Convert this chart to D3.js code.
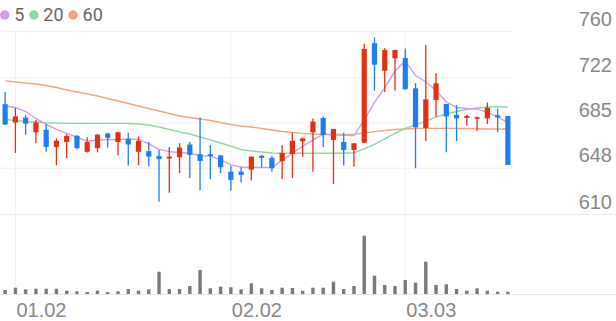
<!DOCTYPE html>
<html>
<head>
<meta charset="utf-8">
<script src="https://cdn.jsdelivr.net/npm/d3@7"></script>
<style>
  body { margin: 0; background: #fff; }
  svg { display: block; font-family: Roboto, 'Noto Sans', sans-serif; }
  .grid line { stroke: #f0f0f0; }
  .grid path { display: none; }
  .label text { fill: #888; font-size: 20px; }
  .label path { display: none; }
</style>
</head>
<body>
<svg width="616" height="321"></svg>
<script>
'use strict';

// daily candles
var open = [700, 685, 689, 677, 679, 665, 669, 674, 661, 664,
    676, 669, 671.5, 661, 661.5, 657.5, 655.5, 656.5, 667, 659,
    659, 658, 644.7, 644.7, 646.3, 657.8, 656, 653.4, 659.2, 669.6,
    677, 688.7, 670.7, 669, 662.5, 668.4, 750, 727.4, 737.6, 737.9,
    713, 680.5, 703.4, 700.2, 691.2, 688.7, 688.4, 688.4, 690.9, 690.3];
var high = [710, 697, 691, 687, 684, 672, 675.3, 674.8, 673, 675.6,
    676.5, 677.5, 676.5, 673.5, 669, 662.5, 665, 668, 669, 689,
    666.5, 658.5, 649.3, 648.3, 657.2, 658.4, 657.5, 666.6, 676.8, 672.5,
    688.3, 690, 679.7, 676.6, 668, 749.6, 754.7, 745.8, 744.4, 745.7,
    717.4, 748.8, 725.3, 700.2, 699.3, 691.2, 689.9, 701.4, 696.5, 690.3];
var low = [683, 660, 675, 668, 661, 650, 656, 663, 660.5, 660.5,
    664.5, 658, 649.5, 650, 649, 620, 627.5, 643.5, 639.5, 629.5,
    638.5, 643.5, 629.3, 636, 637.5, 648, 644.7, 638.4, 639.5, 657,
    644.7, 665, 634.6, 649.8, 648.8, 668.4, 711.2, 710, 711.2, 712,
    647.5, 669.8, 689.8, 660.6, 669.8, 682.4, 678.3, 683.8, 677, 650.2];
var close = [683.4, 690, 684, 685, 665, 670, 674, 664, 669, 675,
    672.5, 677, 667, 670, 657, 655, 657, 664.5, 658.5, 653.5,
    657.5, 648.3, 638, 642, 657, 656, 647.5, 660, 670, 672,
    685.7, 674.8, 679.7, 662.5, 668, 745.3, 732.4, 744.4, 744.4, 712.3,
    681, 704, 717.1, 690, 688.4, 690.3, 689.3, 697.1, 689.1, 650.2];
var volume = [40, 63, 47, 53, 53, 53, 33, 27, 20, 33,
    20, 27, 50, 33, 47, 223, 50, 50, 80, 240,
    57, 73, 67, 47, 107, 57, 40, 63, 60, 33,
    63, 63, 123, 50, 80, 583, 183, 90, 80, 140,
    113, 323, 90, 97, 50, 33, 57, 33, 23, 23];

// moving averages as drawn
var ma5 = [698.5, 697.3, 694, 688.3, 683.4, 679.3, 676.1, 673.1, 669.6, 670.4,
    671.2, 670.9, 671.7, 671.1, 667.6, 662.9, 661.1, 660.4, 659.8, 657.8,
    657.5, 654.3, 650.2, 648.5, 648.1, 648.1, 648.1, 653.9, 659.8, 665.5,
    670.7, 675.3, 674.8, 674.5, 674.3, 687.1, 701.4, 713.3, 727.2, 735.4,
    723.5, 718.4, 711.2, 701.8, 697.3, 696.5, 696.1, 693.2, 690.1, 684.5];
var ma20 = [687.5, 686.6, 685.8, 685.4, 684.8, 684.6, 684.3, 684.2, 684.2, 684.2,
    684.3, 684.3, 684.2, 683.8, 683, 681.3, 679.3, 677.2, 675.6, 673.1,
    670.7, 668.2, 665.7, 662.9, 661.6, 660.8, 660, 659.8, 659.8, 659.8,
    659.8, 659.8, 659.8, 660, 660.2, 663.3, 667, 671.5, 676, 680.1,
    683, 686.2, 689.5, 692, 694, 695.7, 696.9, 697.7, 698.1, 697.5];
var ma60 = [719.3, 718.2, 717.4, 716.6, 715.3, 713.7, 711.6, 710, 708.4, 706.7,
    704.7, 702.6, 700.6, 698.5, 696.5, 694.4, 692.4, 690.3, 689.1, 687.9,
    686.6, 685, 683.4, 682.1, 681.3, 680.1, 678.9, 677.6, 676.8, 676.1,
    675.6, 675.3, 675.3, 675.3, 675.3, 676.4, 677.5, 678.4, 679.3, 679.7,
    680.1, 680.2, 680.2, 680.2, 680.1, 680.1, 679.9, 679.7, 679.7, 679.7];

var priceTicks = [610, 648, 685, 722, 760];
var dateTickIndex = [1, 22, 39];
var dateTickLabels = ['01.02', '02.02', '03.03'];
var maNames = ['5', '20', '60'];
var maColors = ['#d59bef', '#8fd8a4', '#f7a47e'];

var svg = d3.select('svg'),
    plotRight = 513,
    upColor = '#e4300f',
    downColor = '#1c7ef0';

var x = d3.scaleBand()
    .domain(d3.range(close.length))
    .range([0, plotRight]);
var y = d3.scaleLinear()
    .domain([610, 760])
    .range([214, 31]);
var yVol = d3.scaleLinear()
    .domain([0, 700])
    .range([294, 224]);

function cx(i) { return x(i) + x.bandwidth() / 2; }

// horizontal grid
var hGrid = svg.append('g')
    .attr('class', 'grid')
    .call(d3.axisLeft(y).tickValues(priceTicks).tickSize(-plotRight).tickFormat(''));
hGrid.selectAll('.tick')
    .filter(function(d) { return d === 610; })
    .select('line')
    .attr('x2', 616)
    .style('stroke', '#ebebeb');

// vertical grid through the month ticks
svg.append('g')
    .attr('class', 'grid')
    .attr('transform', 'translate(0,294)')
    .call(d3.axisBottom(x).tickValues(dateTickIndex).tickSize(-263).tickFormat(''));

// volume baseline
svg.append('line')
    .attr('x1', 0)
    .attr('x2', 616)
    .attr('y1', 294.5)
    .attr('y2', 294.5)
    .style('stroke', '#e6e6e6');

// price labels sit just above their grid lines
svg.append('g')
    .attr('class', 'label')
    .attr('transform', 'translate(612,0)')
    .call(d3.axisLeft(y).tickValues(priceTicks).tickSize(0).tickPadding(0))
    .selectAll('text')
    .attr('dy', -6);

// date labels, left aligned on the grid line
svg.append('g')
    .attr('class', 'label')
    .attr('transform', 'translate(0,294)')
    .call(d3.axisBottom(x).tickValues(dateTickIndex).tickSize(0)
        .tickFormat(function(d) { return dateTickLabels[dateTickIndex.indexOf(d)]; }))
    .selectAll('text')
    .attr('text-anchor', 'start')
    .attr('x', 1)
    .attr('y', 22.5)
    .attr('dy', 0);

// volume bars
svg.append('g')
    .selectAll('rect')
    .data(volume)
    .enter()
    .append('rect')
    .attr('x', function(d, i) { return cx(i) - 1.7; })
    .attr('width', 3.4)
    .attr('y', function(d) { return yVol(d); })
    .attr('height', function(d) { return yVol(0) - yVol(d); })
    .attr('fill', '#7a7a7a');

// moving average lines
var line = d3.line()
    .x(function(d, i) { return cx(i); })
    .y(function(d) { return y(d); });

svg.append('g')
    .selectAll('path')
    .data([ma60, ma20, ma5])
    .enter()
    .append('path')
    .attr('d', line)
    .attr('fill', 'none')
    .attr('stroke', function(d, i) { return maColors[2 - i]; })
    .attr('stroke-width', 1.4);

// candles
var candles = svg.append('g')
    .selectAll('g')
    .data(close)
    .enter()
    .append('g')
    .attr('fill', function(d, i) { return d > open[i] ? upColor : downColor; })
    .attr('stroke', function(d, i) { return d > open[i] ? upColor : downColor; });

candles.append('line')
    .attr('x1', function(d, i) { return cx(i); })
    .attr('x2', function(d, i) { return cx(i); })
    .attr('y1', function(d, i) { return y(high[i]); })
    .attr('y2', function(d, i) { return y(low[i]); })
    .attr('stroke-width', 1.3);

candles.append('rect')
    .attr('x', function(d, i) { return cx(i) - 2.6; })
    .attr('width', 5.2)
    .attr('y', function(d, i) { return y(Math.max(d, open[i])); })
    .attr('height', function(d, i) { return Math.max(1.5, Math.abs(y(d) - y(open[i]))); })
    .attr('stroke', 'none');

// legend
var legend = svg.append('g'),
    cursor = 4.7;
maNames.forEach(function(name, i) {
    legend.append('circle')
        .attr('cx', cursor)
        .attr('cy', 15)
        .attr('r', 4.7)
        .attr('fill', maColors[i]);
    var t = legend.append('text')
        .attr('x', cursor + 9.5)
        .attr('y', 21)
        .attr('fill', '#666')
        .style('font-size', '18px')
        .text(name);
    cursor += 9.5 + t.node().getComputedTextLength() + 9.5;
});
</script>
</body>
</html>
